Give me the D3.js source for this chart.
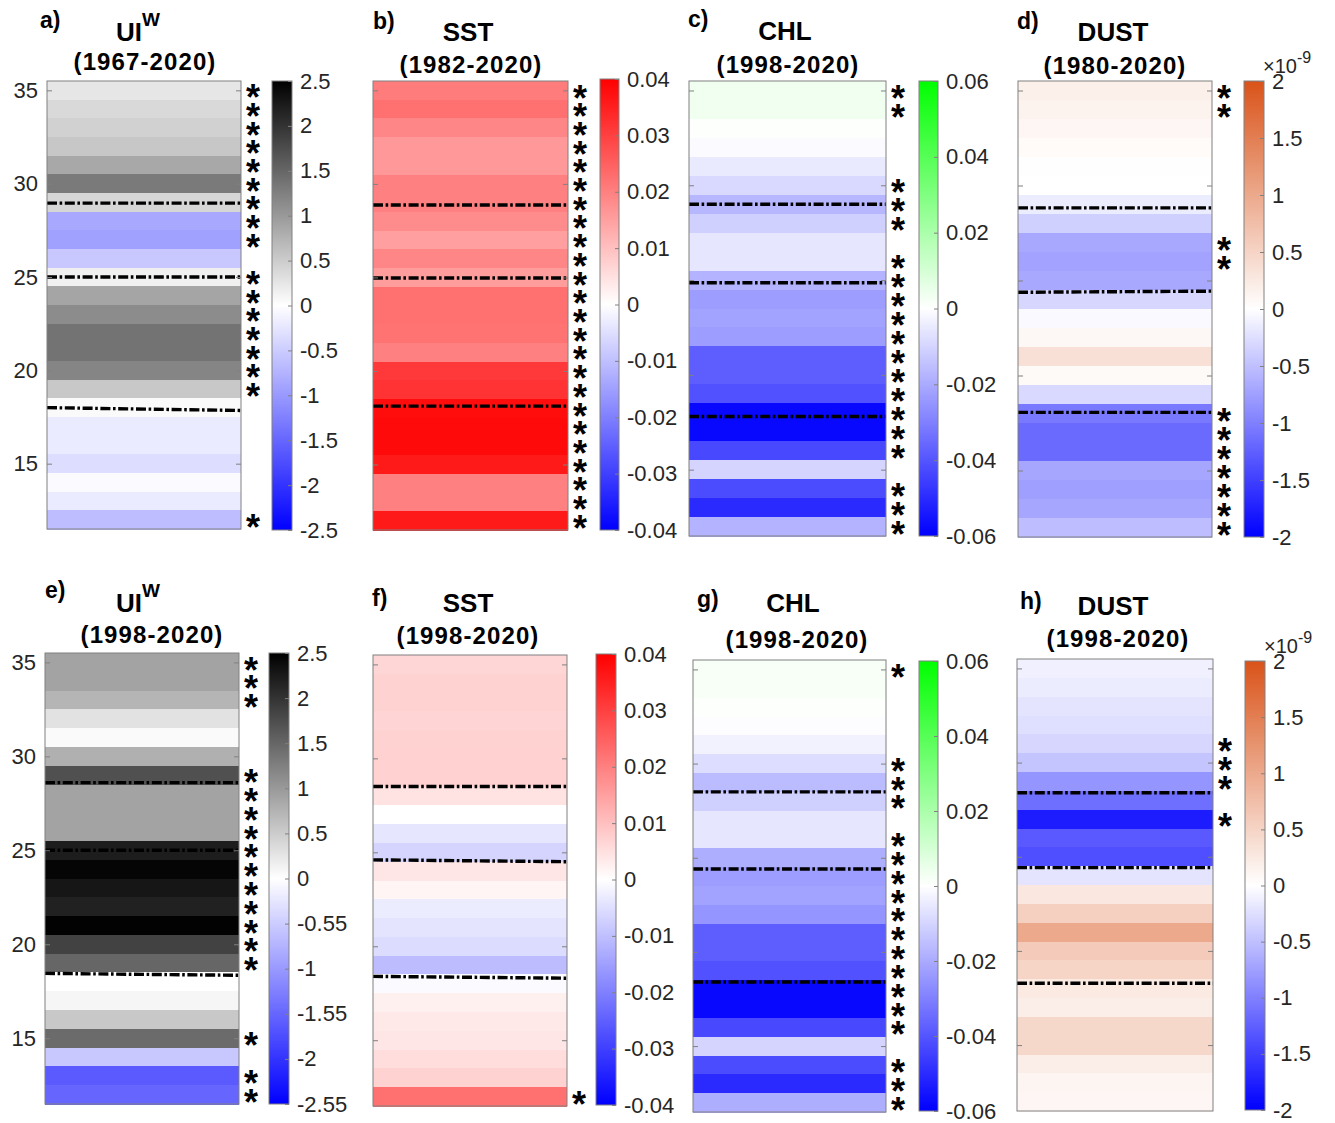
<!DOCTYPE html>
<html>
<head>
<meta charset="utf-8">
<script src="https://cdn.jsdelivr.net/npm/d3@7"></script>
<style>
  body { margin: 0; background: #fff; }
  text { font-family: "Liberation Sans", Arial, Helvetica, sans-serif; }
</style>
</head>
<body>
<script>
// latitudes of the bands, north to south
var lats = d3.range(35, 11, -1);

// trend values per latitude band (35N ... 12N)
var uiLong   = [0.25, 0.37, 0.45, 0.55, 0.85, 1.3, 0.4, -0.85, -0.93, -0.54, 0.15, 0.88, 1.13, 1.37, 1.37, 1.2, 0.54, 0.05, -0.2, -0.2, -0.33, -0.04, -0.2, -0.65];
var sstLong  = [0.0205, 0.0225, 0.019, 0.016, 0.016, 0.02, 0.02, 0.018, 0.015, 0.019, 0.0155, 0.0225, 0.0225, 0.022, 0.02, 0.031, 0.032, 0.038, 0.0385, 0.0385, 0.036, 0.02, 0.02, 0.036];
var chlLong  = [0.0035, 0.0035, 0.0005, -0.001, -0.005, -0.009, -0.017, -0.011, -0.006, -0.006, -0.018, -0.023, -0.022, -0.023, -0.038, -0.038, -0.041, -0.058, -0.058, -0.043, -0.01, -0.042, -0.05, -0.018];
var dustLong = [0.17, 0.14, 0.1, 0.05, 0.01, 0, -0.15, -0.37, -0.68, -0.72, -0.68, -0.32, -0.05, 0.08, 0.36, 0.06, -0.3, -1.05, -1.17, -1.17, -0.7, -0.75, -0.7, -0.52];
var uiShort   = [0.9, 0.9, 0.73, 0.28, 0.05, 0.77, 1.72, 0.9, 0.9, 0.9, 2.22, 2.45, 2.28, 2.18, 2.48, 1.85, 1.5, 0, 0.09, 0.54, 1.45, -0.54, -1.62, -1.5];
var sstShort  = [0.0065, 0.007, 0.007, 0.0068, 0.007, 0.0072, 0.0072, 0.0045, 0, -0.004, -0.0068, 0.004, 0.0015, -0.003, -0.0043, -0.0055, -0.0105, -0.0008, 0.0024, 0.0036, 0.004, 0.0054, 0.007, 0.0224];
var chlShort  = [0.002, 0.002, 0.0005, -0.0005, -0.003, -0.008, -0.016, -0.011, -0.006, -0.006, -0.019, -0.023, -0.022, -0.025, -0.038, -0.038, -0.041, -0.058, -0.058, -0.043, -0.01, -0.042, -0.05, -0.019];
var dustShort = [-0.12, -0.15, -0.21, -0.25, -0.32, -0.46, -0.83, -1.14, -1.78, -1.3, -1.38, -0.21, 0.27, 0.55, 1.0, 0.6, 0.5, 0.25, 0.2, 0.45, 0.45, 0.2, 0.12, 0.1];

// significant latitudes (asterisks)
var starsA = [35, 34, 33, 32, 31, 30, 29, 28, 27, 25, 24, 23, 22, 21, 20, 19, 12];
var starsB = lats.slice();
var starsC = [35, 34, 30, 29, 28, 26, 25, 24, 23, 22, 21, 20, 19, 18, 17, 16, 14, 13, 12];
var starsD = [35, 34, 27, 26, 18, 17, 16, 15, 14, 13, 12];
var starsE = [35, 34, 33, 29, 28, 27, 26, 25, 24, 23, 22, 21, 20, 19, 15, 13, 12];
var starsF = [12];
var starsG = [35, 30, 29, 28, 26, 25, 24, 23, 22, 21, 20, 19, 18, 17, 16, 14, 13, 12];
var starsH = [31, 30, 29, 27];

// dash-dot boundaries, [lat at left edge, lat at right edge]
var linesA = [[28.96, 28.96], [25.0, 25.0], [18.0, 17.85]];
var linesB = [[28.87, 28.87], [24.97, 24.97], [18.12, 18.12]];
var linesC = [[29.0, 29.0], [24.86, 24.86], [17.8, 17.8]];
var linesD = [[28.82, 28.82], [24.38, 24.44], [18.06, 18.06]];
var linesE = [[28.6, 28.6], [25.0, 25.0], [18.45, 18.35]];
var linesF = [[28.5, 28.5], [24.6, 24.5], [18.4, 18.3]];
var linesG = [[28.5, 28.5], [24.4, 24.4], [18.4, 18.4]];
var linesH = [[28.4, 28.4], [24.42, 24.42], [18.28, 18.28]];

// axis and colorbar ticks
var latTicks = [35, 30, 25, 20, 15];
var uiTicks = [2.5, 2, 1.5, 1, 0.5, 0, -0.5, -1, -1.5, -2, -2.5];
var uiLabels = ['2.5', '2', '1.5', '1', '0.5', '0', '-0.5', '-1', '-1.5', '-2', '-2.5'];
var uiLabelsE = ['2.5', '2', '1.5', '1', '0.5', '0', '-0.55', '-1', '-1.55', '-2', '-2.55'];
var sstTicks = [0.04, 0.03, 0.02, 0.01, 0, -0.01, -0.02, -0.03, -0.04];
var sstLabels = ['0.04', '0.03', '0.02', '0.01', '0', '-0.01', '-0.02', '-0.03', '-0.04'];
var chlTicks = [0.06, 0.04, 0.02, 0, -0.02, -0.04, -0.06];
var chlLabels = ['0.06', '0.04', '0.02', '0', '-0.02', '-0.04', '-0.06'];
var dustTicks = [2, 1.5, 1, 0.5, 0, -0.5, -1, -1.5, -2];
var dustLabels = ['2', '1.5', '1', '0.5', '0', '-0.5', '-1', '-1.5', '-2'];

var cmaps = {
  ui:   {max: 2.5,  top: '#000000'},
  sst:  {max: 0.04, top: '#ff0000'},
  chl:  {max: 0.06, top: '#00ff00'},
  dust: {max: 2,    top: '#d95319'}
};

var panels = [
  {tag: 'a)', name: 'UI', sup: 'W', period: '(1967-2020)', vals: uiLong,  stars: starsA, lines: linesA, cm: 'ui',   ticks: uiTicks,   labels: uiLabels,   yLabels: true},
  {tag: 'b)', name: 'SST',          period: '(1982-2020)', vals: sstLong, stars: starsB, lines: linesB, cm: 'sst',  ticks: sstTicks,  labels: sstLabels},
  {tag: 'c)', name: 'CHL',          period: '(1998-2020)', vals: chlLong, stars: starsC, lines: linesC, cm: 'chl',  ticks: chlTicks,  labels: chlLabels},
  {tag: 'd)', name: 'DUST',         period: '(1980-2020)', vals: dustLong, stars: starsD, lines: linesD, cm: 'dust', ticks: dustTicks, labels: dustLabels, expo: true},
  {tag: 'e)', name: 'UI', sup: 'W', period: '(1998-2020)', vals: uiShort,  stars: starsE, lines: linesE, cm: 'ui',   ticks: uiTicks,   labels: uiLabelsE,  yLabels: true},
  {tag: 'f)', name: 'SST',          period: '(1998-2020)', vals: sstShort, stars: starsF, lines: linesF, cm: 'sst',  ticks: sstTicks,  labels: sstLabels},
  {tag: 'g)', name: 'CHL',          period: '(1998-2020)', vals: chlShort, stars: starsG, lines: linesG, cm: 'chl',  ticks: chlTicks,  labels: chlLabels},
  {tag: 'h)', name: 'DUST',         period: '(1998-2020)', vals: dustShort, stars: starsH, lines: linesH, cm: 'dust', ticks: dustTicks, labels: dustLabels, expo: true}
];

// layout: plot box, colorbar box, title positions
var layout = [
  {p: [47, 241, 81, 529],    cb: [272, 292, 81, 530],   tag: [40, 28],   title: [138, 41],   per: [145, 70]},
  {p: [373, 568, 81, 530],   cb: [600, 619, 79, 530],   tag: [373, 29],  title: [468, 41],   per: [471, 73]},
  {p: [689, 886, 81, 536],   cb: [919, 938, 81, 536],   tag: [688, 27],  title: [785, 40],   per: [788, 73]},
  {p: [1018, 1212, 81, 537], cb: [1244, 1264, 81, 537], tag: [1017, 29], title: [1113, 41],  per: [1115, 74]},
  {p: [45, 239, 653, 1104],  cb: [269, 289, 653, 1104], tag: [45, 598],  title: [138, 612],  per: [152, 643]},
  {p: [373, 567, 655, 1106], cb: [596, 616, 654, 1105], tag: [372, 606], title: [468, 612],  per: [468, 644]},
  {p: [693, 886, 660, 1112], cb: [919, 938, 661, 1111], tag: [697, 607], title: [793, 612],  per: [797, 648]},
  {p: [1017, 1213, 659, 1111], cb: [1245, 1265, 661, 1110], tag: [1020, 609], title: [1113, 615], per: [1118, 647]}
];

var starSize = 36;

var svg = d3.select('body').append('svg')
  .attr('width', 1335)
  .attr('height', 1123);

var defs = svg.append('defs');

panels.forEach(function(pn, k) {
  var L = layout[k];
  var cm = cmaps[pn.cm];
  var g = svg.append('g');

  var y = d3.scaleLinear().domain([35.5, 11.5]).range([L.p[2], L.p[3]]);
  var color = d3.scaleLinear()
    .domain([-cm.max, 0, cm.max])
    .range(['#0000ff', '#ffffff', cm.top]);

  // bands
  g.selectAll('rect.band')
    .data(pn.vals.map(function(v, i) { return {lat: lats[i], v: v}; }))
    .enter().append('rect')
    .attr('class', 'band')
    .attr('x', L.p[0])
    .attr('width', L.p[1] - L.p[0])
    .attr('y', function(d) { return y(d.lat + 0.5); })
    .attr('height', function(d) { return y(d.lat - 0.5) - y(d.lat + 0.5) + 0.6; })
    .attr('fill', function(d) { return color(d.v); })
    .attr('shape-rendering', 'crispEdges');

  // dash-dot lines
  g.selectAll('line.bound')
    .data(pn.lines)
    .enter().append('line')
    .attr('x1', L.p[0]).attr('x2', L.p[1])
    .attr('y1', function(d) { return y(d[0]); })
    .attr('y2', function(d) { return y(d[1]); })
    .attr('stroke', '#000')
    .attr('stroke-width', 3.4)
    .attr('stroke-dasharray', '10,2.6,2.6,2.6');

  // box
  g.append('rect')
    .attr('x', L.p[0]).attr('y', L.p[2])
    .attr('width', L.p[1] - L.p[0]).attr('height', L.p[3] - L.p[2])
    .attr('fill', 'none').attr('stroke', '#808080').attr('stroke-width', 1);

  // y axes (ticks inside)
  var yl = d3.axisLeft(y).tickValues(latTicks).tickSizeInner(-5).tickSizeOuter(0).tickPadding(9)
    .tickFormat(pn.yLabels ? d3.format('d') : function() { return ''; });
  var yr = d3.axisRight(y).tickValues(latTicks).tickSizeInner(-5).tickSizeOuter(0)
    .tickFormat(function() { return ''; });
  var gl = g.append('g').attr('transform', 'translate(' + L.p[0] + ',0)').call(yl);
  var gr = g.append('g').attr('transform', 'translate(' + L.p[1] + ',0)').call(yr);
  [gl, gr].forEach(function(ax) {
    ax.select('.domain').remove();
    ax.selectAll('line').attr('stroke', '#808080');
    ax.selectAll('text').attr('font-size', 22).attr('fill', '#262626')
      .attr('font-family', '"Liberation Sans", Arial, sans-serif');
  });

  // asterisks
  g.selectAll('text.star')
    .data(pn.stars)
    .enter().append('text')
    .attr('class', 'star')
    .attr('x', L.p[1] + 12)
    .attr('y', function(d) { return y(d) + starSize * 0.56; })
    .attr('text-anchor', 'middle')
    .attr('font-size', starSize)
    .attr('font-weight', 'bold')
    .attr('fill', '#000')
    .text('*');

  // colorbar
  var gid = 'grad' + k;
  var grad = defs.append('linearGradient').attr('id', gid)
    .attr('x1', 0).attr('y1', 0).attr('x2', 0).attr('y2', 1);
  grad.selectAll('stop')
    .data(d3.range(0, 1.0001, 0.05))
    .enter().append('stop')
    .attr('offset', function(t) { return t; })
    .attr('stop-color', function(t) { return color(cm.max - t * 2 * cm.max); });

  var cy = d3.scaleLinear().domain([cm.max, -cm.max]).range([L.cb[2], L.cb[3]]);
  g.append('rect')
    .attr('x', L.cb[0]).attr('y', L.cb[2])
    .attr('width', L.cb[1] - L.cb[0]).attr('height', L.cb[3] - L.cb[2])
    .attr('fill', 'url(#' + gid + ')')
    .attr('stroke', '#808080').attr('stroke-width', 1);

  var cax = d3.axisRight(cy).tickValues(pn.ticks).tickSizeInner(-4).tickSizeOuter(0).tickPadding(8)
    .tickFormat(function(d, i) { return pn.labels[i]; });
  var gc = g.append('g').attr('transform', 'translate(' + L.cb[1] + ',0)').call(cax);
  gc.select('.domain').remove();
  gc.selectAll('line').attr('stroke', '#808080');
  gc.selectAll('text').attr('font-size', 22).attr('fill', '#262626')
    .attr('font-family', '"Liberation Sans", Arial, sans-serif');

  if (pn.expo) {
    var ex = g.append('text')
      .attr('x', L.cb[1] - 1).attr('y', L.cb[2] - 8)
      .attr('font-size', 20).attr('fill', '#262626');
    ex.append('tspan').text('\u00d710');
    ex.append('tspan').attr('dy', -10).attr('font-size', 16).text('-9');
  }

  // titles
  g.append('text')
    .attr('x', L.tag[0]).attr('y', L.tag[1])
    .attr('font-size', 23).attr('font-weight', 'bold')
    .text(pn.tag);

  var tt = g.append('text')
    .attr('x', L.title[0]).attr('y', L.title[1])
    .attr('text-anchor', 'middle')
    .attr('font-size', 26).attr('font-weight', 'bold')
    .text(pn.name);
  if (pn.sup) {
    tt.append('tspan').attr('dy', -15).attr('font-size', 19).text(pn.sup);
  }

  g.append('text')
    .attr('x', L.per[0]).attr('y', L.per[1])
    .attr('text-anchor', 'middle')
    .attr('font-size', 24).attr('font-weight', 'bold')
    .attr('letter-spacing', 1.1)
    .text(pn.period);
});
</script>
</body>
</html>
